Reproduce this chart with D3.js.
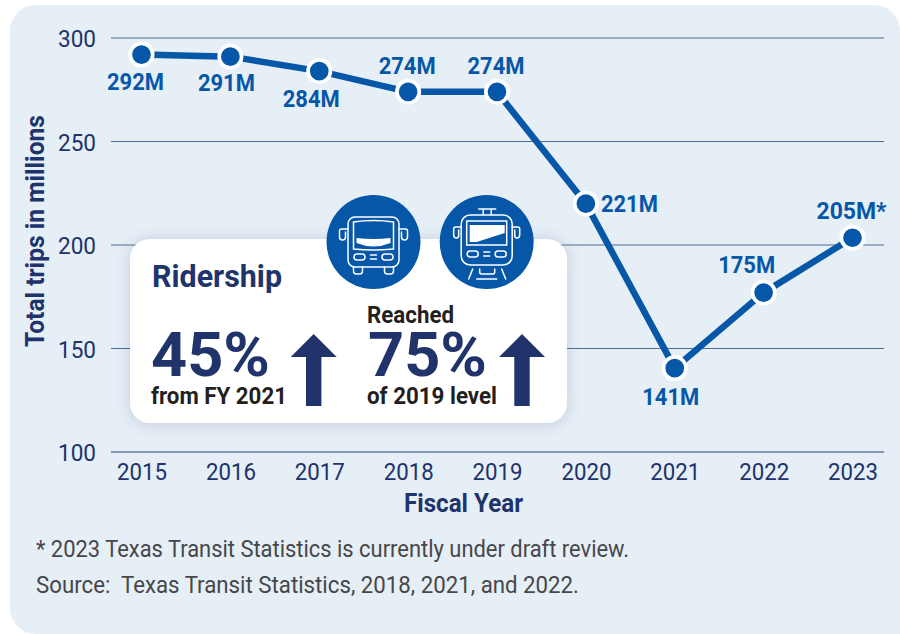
<!DOCTYPE html>
<html><head><meta charset="utf-8">
<script src="https://cdn.jsdelivr.net/npm/d3@7"></script>
<style>
html,body{margin:0;padding:0;background:#fff}
svg{display:block}
text{font-family:Roboto,"Noto Sans",sans-serif}
</style></head><body>
<svg id="c" width="900" height="634"></svg>
<script>
const years = [2015,2016,2017,2018,2019,2020,2021,2022,2023];
const trips = [292,291,284,274,274,220,140.5,177,203.5];
const pointLabels = ["292M","291M","284M","274M","274M","221M","141M","175M","205M*"];
const yTicks = [100,150,200,250,300];
const xTitle = "Fiscal Year";
const yTitle = "Total trips in millions";
const footnotes = ["* 2023 Texas Transit Statistics is currently under draft review.","Source:  Texas Transit Statistics, 2018, 2021, and 2022."];

const BLUE="#0757a8", NAVY="#20336b", INK="#231f20", GREY="#46474a";
const svg=d3.select("#c");
const defs=svg.append("defs");
const f=defs.append("filter").attr("id","sh").attr("x","-10%").attr("y","-15%").attr("width","120%").attr("height","130%");
f.append("feDropShadow").attr("dx",0).attr("dy",1).attr("stdDeviation",7).attr("flood-color","#5a6f8c").attr("flood-opacity",0.28);

const x=d3.scalePoint().domain(years).range([141.5,852.5]);
const y=d3.scaleLinear().domain([100,300]).range([452,38]);

function label(g,s,px,py,o){
  const t=g.append("text").text(s).attr("x",px).attr("y",py)
    .attr("font-size",o.size).attr("font-weight",o.weight||400).attr("fill",o.fill)
    .attr("text-anchor",o.anchor||"start").attr("xml:space","preserve");
  if(o.len) t.attr("textLength",o.len).attr("lengthAdjust","spacingAndGlyphs");
  return t;
}

// panel
svg.append("path").attr("fill","#e6eef6")
  .attr("d","M10,31 a26,26 0 0 1 26,-26 H874 a26,26 0 0 1 26,26 V634 H36 a26,26 0 0 1 -26,-26 Z");

// grid
const gridG=svg.append("g");
gridG.selectAll("line").data(yTicks).join("line")
  .attr("x1",111).attr("x2",884).attr("y1",d=>y(d)).attr("y2",d=>y(d))
  .attr("stroke",d=>d===100?"#24406e":"#4f6c91").attr("stroke-width",1.2);

// y axis labels via d3 axis
const yAxis=svg.append("g").attr("transform","translate(100,0)")
  .call(d3.axisLeft(y).tickValues(yTicks).tickSize(0).tickPadding(4));
yAxis.select(".domain").remove();
yAxis.selectAll("text").attr("font-size",24).attr("font-family","Roboto").attr("fill",NAVY).attr("dy","0.36em")
  .attr("textLength",38).attr("lengthAdjust","spacingAndGlyphs");

// x axis
const xAxis=svg.append("g").attr("transform","translate(0,452)")
  .call(d3.axisBottom(x).tickSize(0).tickPadding(11).tickFormat(d3.format("d")));
xAxis.select(".domain").remove();
xAxis.selectAll("text").attr("font-size",24).attr("font-family","Roboto").attr("fill",NAVY)
  .attr("textLength",50).attr("lengthAdjust","spacingAndGlyphs");

// titles
label(svg,xTitle,404,512,{size:26,weight:700,fill:NAVY,len:119});
label(svg,yTitle,0,0,{size:26,weight:700,fill:NAVY,len:232}).attr("transform","translate(44,347) rotate(-90)");
label(svg,footnotes[0],36,557,{size:23,fill:GREY,len:593});
label(svg,footnotes[1],36,593,{size:23,fill:GREY,len:543});

// card
svg.append("rect").attr("x",130).attr("y",239).attr("width",437).attr("height",184).attr("rx",20)
  .attr("fill","#fff").attr("filter","url(#sh)");

// line + points
svg.append("path").datum(trips.map((v,i)=>[years[i],v]))
  .attr("fill","none").attr("stroke",BLUE).attr("stroke-width",6.5)
  .attr("d",d3.line().x(d=>x(d[0])).y(d=>y(d[1])));
svg.selectAll("circle.pt").data(trips).join("circle").attr("class","pt")
  .attr("cx",(d,i)=>x(years[i])).attr("cy",d=>y(d)).attr("r",11.2)
  .attr("fill",BLUE).attr("stroke","#fff").attr("stroke-width",3.7);

// point labels: offsets from each marker
const labelShift=[[-6,35],[-4,34],[-8,36],[-1,-18],[-1,-18],[15,8],[-4,37],[-17,-20],[-1,-19]];
const labelAnchor=["middle","middle","middle","middle","middle","start","middle","middle","middle"];
const labelWidth=[57,57,57,57,57,57,57,57,70];
svg.selectAll("text.pl").data(trips).join("text").attr("class","pl")
  .text((d,i)=>pointLabels[i])
  .attr("x",(d,i)=>x(years[i])+labelShift[i][0]).attr("y",(d,i)=>y(d)+labelShift[i][1])
  .attr("text-anchor",(d,i)=>labelAnchor[i])
  .attr("textLength",(d,i)=>labelWidth[i]).attr("lengthAdjust","spacingAndGlyphs")
  .attr("font-size",23).attr("font-weight",700).attr("fill",BLUE);

// card content
const card=svg.append("g");
label(card,"Ridership",152,287,{size:31,weight:700,fill:NAVY,len:130});
label(card,"Reached",367,323,{size:23,weight:700,fill:INK,len:87});
label(card,"45%",151,376,{size:62,weight:700,fill:NAVY,len:119});
label(card,"75%",368,376,{size:62,weight:700,fill:NAVY,len:119});
label(card,"from FY 2021",151,404,{size:23.5,weight:700,fill:INK,len:136});
label(card,"of 2019 level",367,404,{size:23.5,weight:700,fill:INK,len:130});

// arrows
[[313.7],[522]].forEach(([cx])=>{
  card.append("path").attr("fill",NAVY)
    .attr("d",`M${cx},334 L${cx+23},357 H${cx+7.7} V406 H${cx-7.7} V357 H${cx-23} Z`);
});

// icons
function iconBase(cx,cy){
  const g=svg.append("g").attr("transform",`translate(${cx},${cy})`);
  g.append("circle").attr("r",47).attr("fill",BLUE);
  return g.append("g").attr("fill","none").attr("stroke","#fff").attr("stroke-width",1.5).attr("stroke-linecap","round");
}
const bus=iconBase(373.5,242);
bus.append("rect").attr("x",-25.5).attr("y",-25).attr("width",51).attr("height",50).attr("rx",7);
bus.append("path").attr("d","M-20,-20 Q0,-23 20,-20 V7 Q0,9 -20,7 Z");
bus.append("path").attr("fill","#fff").attr("stroke","none").attr("d","M-17,-4 Q0,-2 17,-4 V1 Q0,8 -17,1 Z");
bus.append("path").attr("d","M-25.5,-13 H-32 Q-34,-13 -34,-11 V-5 Q-34,-2 -31,-2 Q-28,-2 -28,-5 V-10");
bus.append("path").attr("d","M25.5,-13 H32 Q34,-13 34,-11 V-5 Q34,-2 31,-2 Q28,-2 28,-5 V-10");
[[-14],[14]].forEach(([a])=>bus.append("rect").attr("x",a-5.5).attr("y",12).attr("width",11).attr("height",6).attr("rx",3));
bus.append("path").attr("d","M-3,13 H3 M-3,17 H3");
bus.append("path").attr("d","M-20,25 V29 Q-20,32 -17,32 H-14 Q-11,32 -11,29 V25 M11,25 V29 Q11,32 14,32 H17 Q20,32 20,29 V25");

const tr=iconBase(486.7,242);
tr.append("rect").attr("x",-25.5).attr("y",-27).attr("width",51).attr("height",50).attr("rx",9);
tr.append("path").attr("d","M-20,-21 H20 V3 H-20 Z");
tr.append("path").attr("fill","#fff").attr("stroke","none").attr("d","M-17,-17 H18 V-9 L-10,0 H-17 Z");
tr.append("path").attr("d","M-8,-33 H9 M-3.5,-33 V-27 M4.5,-33 V-27");
tr.append("path").attr("d","M-25.5,-15 H-31 Q-33,-15 -33,-13 V-7 Q-33,-4 -30,-4 Q-28,-4 -28,-7 V-12");
tr.append("path").attr("d","M25.5,-15 H31 Q33,-15 33,-13 V-7 Q33,-4 30,-4 Q28,-4 28,-7 V-12");
[[-14],[14]].forEach(([a])=>tr.append("rect").attr("x",a-5.5).attr("y",9).attr("width",11).attr("height",6).attr("rx",3));
tr.append("path").attr("d","M-3,10 H3 M-3,14 H3");
tr.append("path").attr("d","M-14,27 L-18,37 M15,27 L19,37 M-10,37 H10 M-7,27 V30 Q-7,32 -5,32 H6 Q8,32 8,30 V27");
</script>
</body></html>
